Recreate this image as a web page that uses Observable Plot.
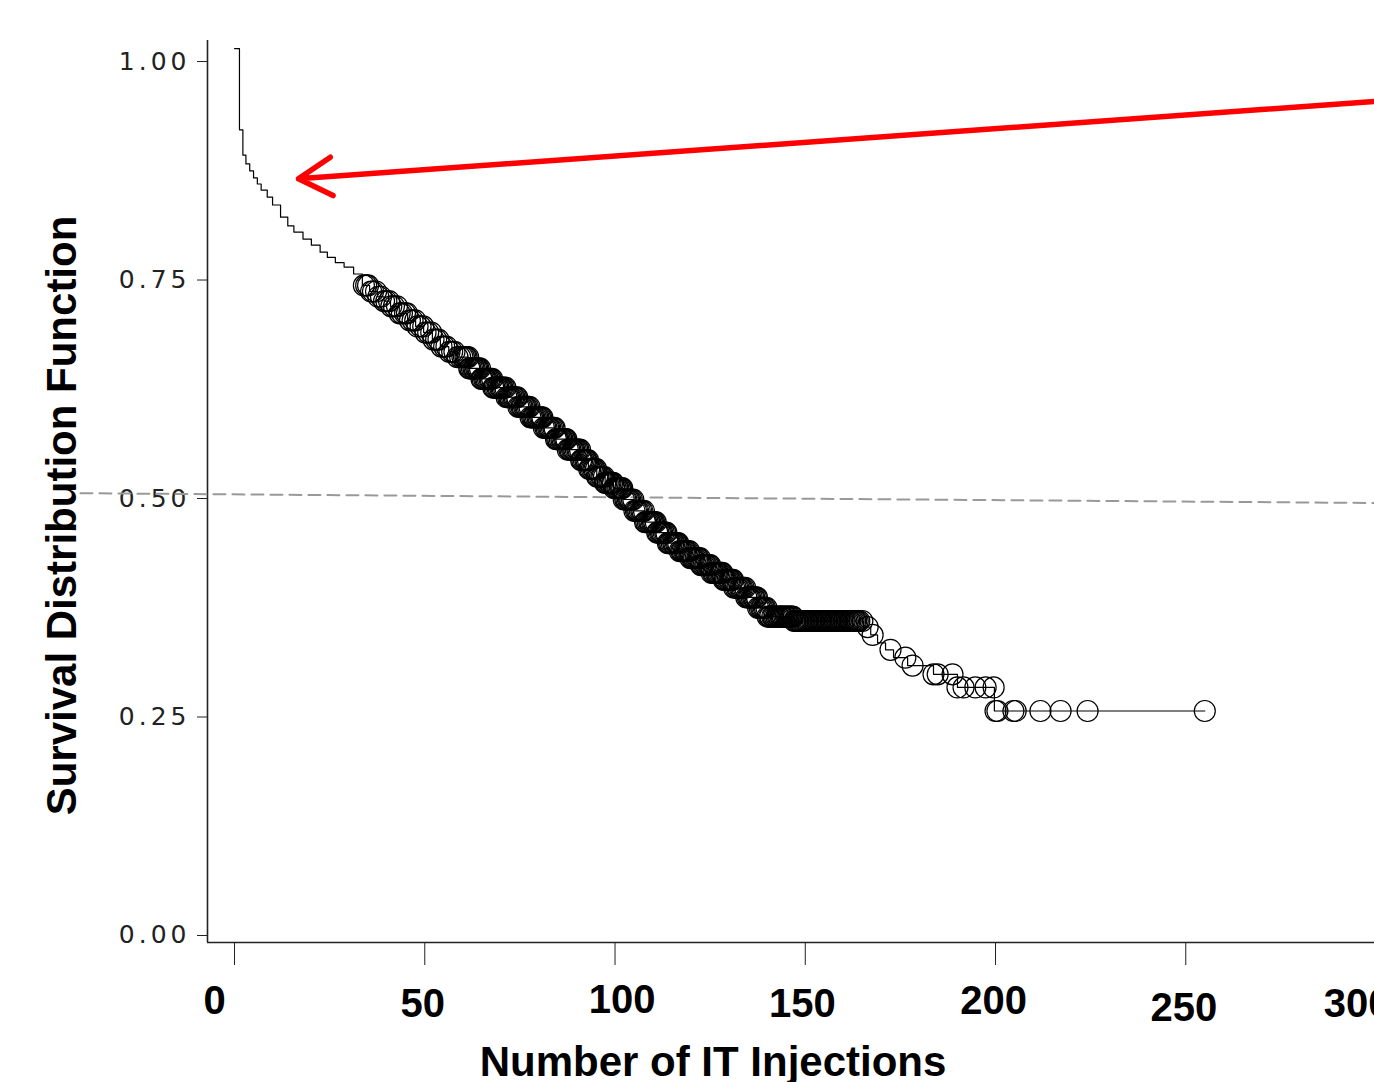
<!DOCTYPE html>
<html><head><meta charset="utf-8">
<script src="https://cdn.jsdelivr.net/npm/d3@7"></script>
<script src="https://cdn.jsdelivr.net/npm/@observablehq/plot@0.6"></script>
<style>html,body{margin:0;padding:0;background:#fff;} #chart{width:1374px;height:1082px;overflow:hidden}</style>
</head><body><div id="chart"></div>
<script>
// Kaplan–Meier step curve: event times and survival after each event
const eventTimes = [0, 1.3, 2.2, 3.0, 4.0, 5.0, 6.0, 7.0, 8.6, 10.0, 12.1, 14.0, 15.6, 18.0, 20.2, 22.5, 24.4, 26.5, 28.8, 31.3, 33.6, 35.5, 37.6, 39.3, 41.0, 43.3, 45.5, 47.6, 49.7, 52.0, 54.1, 56.3, 58.6, 61.5, 64.7, 67.8, 71.3, 74.5, 77.8, 81.0, 84.3, 87.6, 90.9, 93.0, 95.2, 97.4, 99.6, 102.2, 104.9, 107.8, 110.8, 113.8, 116.7, 119.6, 122.5, 125.4, 128.3, 131.1, 134.3, 137.5, 140.1, 147.0, 165.3, 167.2, 169.0, 171.1, 173.2, 176.9, 183.7, 190.0, 199.7, 255.0];
const survival = [1.0, 0.907, 0.878, 0.868, 0.860, 0.852, 0.845, 0.838, 0.830, 0.821, 0.807, 0.797, 0.790, 0.782, 0.775, 0.767, 0.761, 0.755, 0.750, 0.742, 0.729, 0.722, 0.716, 0.711, 0.705, 0.697, 0.689, 0.682, 0.675, 0.667, 0.659, 0.653, 0.647, 0.634, 0.622, 0.612, 0.601, 0.590, 0.578, 0.566, 0.553, 0.541, 0.529, 0.519, 0.510, 0.503, 0.497, 0.484, 0.471, 0.458, 0.446, 0.434, 0.425, 0.417, 0.409, 0.400, 0.392, 0.383, 0.372, 0.360, 0.350, 0.345, 0.338, 0.329, 0.320, 0.312, 0.303, 0.294, 0.284, 0.269, 0.242, 0.242];

// Censored observations (circles)
const censorTimes = [34.0, 34.6, 35.1, 35.9, 36.4, 37.2, 37.8, 38.5, 39.3, 39.9, 40.6, 41.2, 41.9, 42.7, 43.4, 44.0, 44.8, 45.3, 46.1, 46.8, 47.5, 48.1, 48.9, 49.6, 50.2, 50.9, 51.7, 52.3, 53.0, 53.6, 54.4, 55.1, 55.7, 56.5, 57.2, 57.8, 58.6, 59.3, 59.9, 60.7, 61.4, 62.0, 62.8, 63.5, 64.1, 64.9, 65.6, 66.2, 67.0, 67.7, 68.3, 69.1, 69.8, 70.4, 71.2, 71.9, 72.5, 73.3, 74.0, 74.6, 75.4, 76.1, 76.7, 77.5, 78.2, 78.8, 79.6, 80.3, 80.9, 81.7, 82.4, 83.0, 83.8, 84.5, 85.1, 85.9, 86.6, 87.2, 88.0, 88.7, 89.3, 90.1, 90.8, 91.4, 92.2, 92.9, 93.5, 94.3, 95.0, 95.6, 96.4, 97.1, 97.7, 98.5, 99.2, 99.8, 100.6, 101.3, 101.9, 102.7, 103.4, 104.0, 104.8, 105.5, 106.1, 106.9, 107.6, 108.2, 109.0, 109.7, 110.3, 111.1, 111.8, 112.4, 113.2, 113.9, 114.5, 115.3, 116.0, 116.6, 117.4, 118.1, 118.7, 119.5, 120.2, 120.8, 121.6, 122.3, 122.9, 123.7, 124.4, 125.0, 125.8, 126.5, 127.1, 127.9, 128.6, 129.2, 130.0, 130.7, 131.3, 132.1, 132.8, 133.4, 134.2, 134.9, 135.5, 136.3, 137.0, 137.6, 138.4, 139.1, 139.8, 140.5, 141.3, 142.0, 142.8, 143.5, 144.1, 144.9, 145.6, 146.4, 147.1, 147.9, 148.6, 149.4, 150.2, 150.9, 151.7, 152.4, 153.2, 154.0, 154.7, 155.5, 156.2, 157.0, 157.8, 158.5, 159.3, 160.1, 160.8, 161.6, 162.3, 163.1, 163.8, 165.0, 166.4, 167.7, 172.4, 176.3, 178.2, 183.7, 184.8, 188.7, 190.0, 191.6, 194.7, 197.4, 199.5, 200.0, 200.5, 204.7, 205.3, 211.8, 217.1, 224.2, 255.0];
// further censored observations in the dense middle stretch
const censorTimesDense = [60.3, 61.0, 61.7, 62.4, 63.1, 63.8, 64.5, 65.2, 65.9, 66.6, 67.3, 68.0, 68.7, 69.4, 70.1, 70.8, 71.5, 72.2, 72.9, 73.6, 74.3, 75.0, 75.7, 76.4, 77.1, 77.8, 78.5, 79.2, 79.9, 80.6, 81.3, 82.0, 82.7, 83.4, 84.1, 84.8, 85.5, 86.2, 86.9, 87.6, 88.3, 89.0, 89.7, 90.4, 91.1, 91.8, 92.5, 93.2, 93.9, 94.6, 95.3, 96.0, 96.7, 97.4, 98.1, 98.8, 99.5, 100.2, 100.9, 101.6, 102.3, 103.0, 103.7, 104.4, 105.1, 105.8, 106.5, 107.2, 107.9, 108.6, 109.3, 110.0, 110.7, 111.4, 112.1, 112.8, 113.5, 114.2, 114.9, 115.6, 116.3, 117.0, 117.7, 118.4, 119.1, 119.8, 120.5, 121.2, 121.9, 122.6, 123.3, 124.0, 124.7, 125.4, 126.1, 126.8, 127.5, 128.2, 128.9, 129.6, 130.3, 131.0, 131.7, 132.4, 133.1, 133.8, 134.5, 135.2, 135.9, 136.6, 137.3, 138.0, 138.7, 139.4, 140.1, 140.8, 141.6, 142.4, 143.1, 143.8, 144.5, 145.2, 146.0, 146.7, 147.5, 148.2, 149.0, 149.8, 150.5, 151.3, 152.0, 152.8, 153.6, 154.3, 155.1, 155.8, 156.6, 157.4, 158.1, 158.9, 159.7, 160.4, 161.2, 161.9, 162.7, 163.4, 164.2];

const xTicks = [0, 50, 100, 150, 200, 250, 300];
const yTicks = [0, 0.25, 0.5, 0.75, 1];
const xTitle = "Number of IT Injections";
const yTitle = "Survival Distribution Function";

// reference (median) dashed line endpoints and red annotation arrow, in data units
const refLineX = [-40.5, 299.6];
const refLineY = [0.4912, 0.480];
const arrowStart = {x: 299.6, y: 0.9394};
const arrowEnd = {x: 16.8, y: 0.851};

// ---- build tables ----
const curve = eventTimes.map((t, i) => ({t, s: survival[i]}));
const survAt = t => survival[Math.max(0, d3.bisectRight(eventTimes, t) - 1)];
const censored = censorTimes.concat(censorTimesDense).map(t => ({t, s: survAt(t)}));
const refLine = refLineX.map((x, i) => ({x, y: refLineY[i]}));

const xDomain = [-7.1, 299.6];
const yDomain = [-0.0229, 1.0092];

// per-label nudges [dx, tickPadding] mimicking the original's uneven label placement
const xLabelNudge = {0: [-20, 43], 50: [-2, 46], 100: [7, 42], 150: [-3, 46], 200: [-2, 43], 250: [-2, 50], 300: [-19, 46]};

const font = "'Liberation Sans', Arial, sans-serif";

const chart = Plot.plot({
  width: 1374,
  height: 1082,
  marginLeft: 207,
  marginRight: 0,
  marginTop: 40,
  marginBottom: 140,
  style: {fontFamily: font, background: "#fff", color: "#000"},
  x: {domain: xDomain, label: null},
  y: {domain: yDomain, label: null},
  marks: [
    Plot.ruleX([xDomain[0]], {stroke: "#222", strokeWidth: 1.6}),
    Plot.ruleY([yDomain[0]], {stroke: "#222", strokeWidth: 1.6}),
    Plot.axisY(yTicks, {
      tickSize: 10, tickPadding: 7, dy: 13, label: null,
      tickFormat: d3.format(".2f"),
      fontFamily: "'DejaVu Sans', sans-serif", fontSize: 25, fill: "#222", stroke: "#222"
    }),
    Plot.axisX(xTicks, {tickSize: 23, tickFormat: () => "", label: null, stroke: "#222"}),
    ...xTicks.map(v => Plot.axisX([v], {
      tickSize: 0, tickPadding: xLabelNudge[v][1], dx: xLabelNudge[v][0], label: null,
      tickFormat: d3.format("d"),
      fontFamily: font, fontSize: 40, fontWeight: "bold", fill: "#000"
    })),
    Plot.line(refLine, {x: "x", y: "y", stroke: "#999", strokeWidth: 2, strokeDasharray: "12,7"}),
    Plot.line(curve, {x: "t", y: "s", curve: "step-after", stroke: "#000", strokeWidth: 1.2}),
    Plot.dot(censored, {x: "t", y: "s", r: 10.5, stroke: "#000", strokeWidth: 1.2, fill: "none"}),
    Plot.arrow([{x1: arrowStart.x, y1: arrowStart.y, x2: arrowEnd.x, y2: arrowEnd.y}], {
      x1: "x1", y1: "y1", x2: "x2", y2: "y2", stroke: "#ff0000", strokeWidth: 5.5, headLength: 10.5, headAngle: 60
    }),
    Plot.text([yTitle], {
      frameAnchor: "left", text: d => d, rotate: -90, dx: -145, dy: 24,
      textAnchor: "middle", lineAnchor: "middle",
      fontFamily: font, fontSize: 42, fontWeight: "bold", fill: "#000"
    }),
    Plot.text([xTitle], {
      frameAnchor: "bottom", text: d => d, dx: -78, dy: 120,
      textAnchor: "middle", lineAnchor: "middle",
      fontFamily: font, fontSize: 42, fontWeight: "bold", fill: "#000"
    })
  ]
});
const yLab = chart.querySelector('g[aria-label="y-axis tick label"]');
if (yLab) yLab.setAttribute("letter-spacing", "4");
document.getElementById("chart").appendChild(chart);
</script>
</body></html>
